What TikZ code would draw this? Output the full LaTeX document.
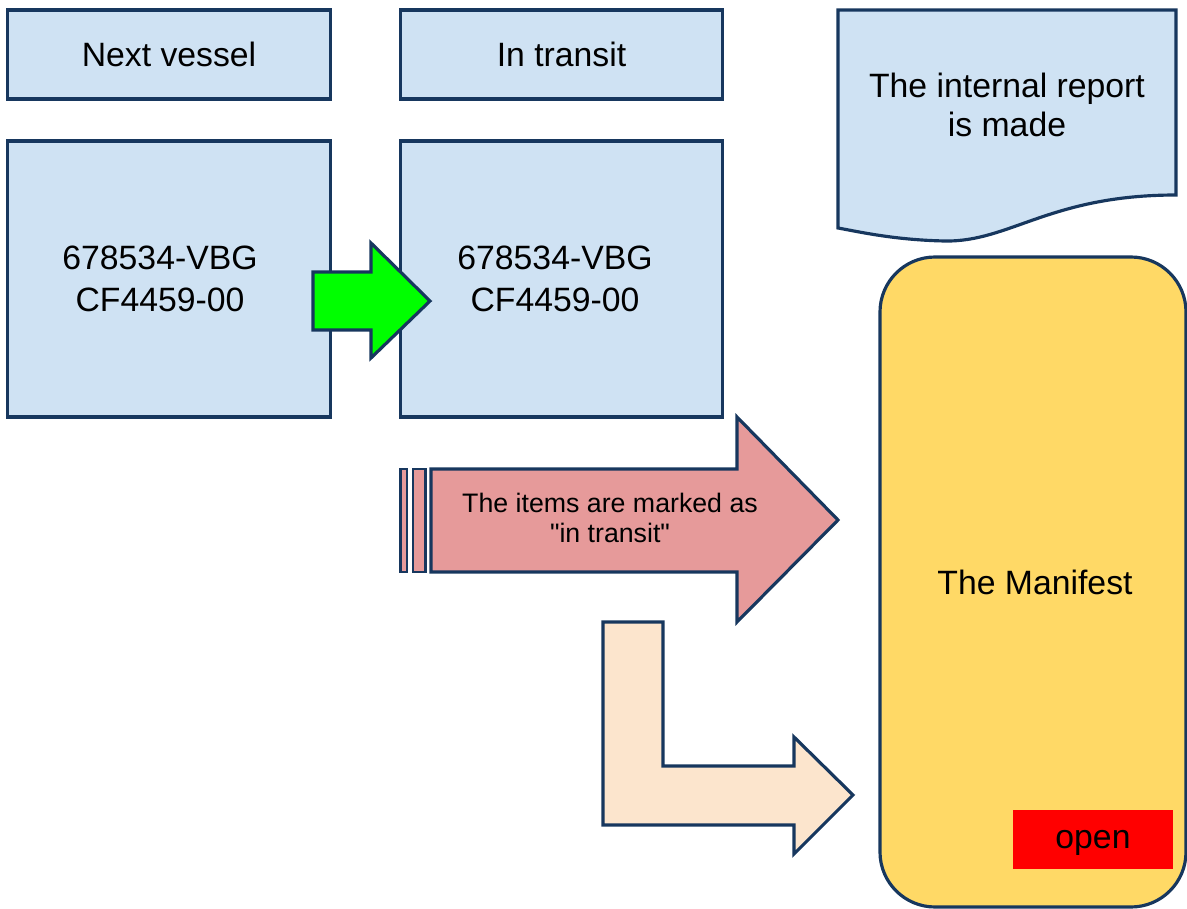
\documentclass[tikz,border=0pt]{standalone}
\usepackage{fontspec}
\setmainfont{Liberation Sans}
% straight double quote, set as a glyph so the TeX ligature mapping leaves it alone
\newcommand\straightquote{\XeTeXglyph\XeTeXcharglyph"22\relax}
\begin{document}
\definecolor{boxblue}{HTML}{CFE2F3}
\definecolor{edgenavy}{HTML}{17375E}
\definecolor{arrowgreen}{HTML}{00FF00}
\definecolor{arrowpink}{HTML}{E69A9A}
\definecolor{arrowpeach}{HTML}{FCE5CD}
\definecolor{manifestyellow}{HTML}{FFD966}
\definecolor{openred}{HTML}{FF0000}
\begin{tikzpicture}[x=0.01cm,y=-0.01cm,
  outline/.style={draw=edgenavy,line width=0.9pt,line join=miter},
  bluebox/.style={outline,fill=boxblue,rectangle,inner sep=0pt,font=\fontsize{9.6pt}{12pt}\selectfont,align=center},
  arrowshape/.style={outline},
  labeltext/.style={font=\fontsize{9.6pt}{11pt}\selectfont,align=center,inner sep=0pt}]
\useasboundingbox (0,0) rectangle (1187,909);

% header boxes
\node[bluebox,minimum width=3.22cm,minimum height=0.89cm] (nv) at (169,54.5) {Next vessel};
\node[bluebox,minimum width=3.21cm,minimum height=0.89cm] (it) at (561.5,54.5) {In transit};

% container boxes
\node[bluebox,minimum width=3.22cm,minimum height=2.76cm] (left) at (169,279) {};
\node[labeltext,font=\fontsize{9.6pt}{12pt}\selectfont] (lefttext) at (160,279) {678534-VBG\\CF4459-00};
\node[bluebox,minimum width=3.21cm,minimum height=2.76cm] (right) at (561.5,279) {};
\node[labeltext,font=\fontsize{9.6pt}{12pt}\selectfont] (righttext) at (555,279) {678534-VBG\\CF4459-00};

% green block arrow between the two containers
\draw[arrowshape,fill=arrowgreen] (313,272) -- (371,272) -- (371,243) -- (430,301)
  -- (371,358) -- (371,330) -- (313,330) -- cycle;

% document shape: the internal report
\draw[outline,fill=boxblue] (838,10) -- (1176,10) -- (1176,195)
  .. controls (1050,195) and (1010,242) .. (945,241)
  .. controls (895,240) and (860,232) .. (838,228) -- cycle;
\node[labeltext] (report) at (1007,105) {The internal report\\is made};

% the manifest
\draw[outline,fill=manifestyellow,rounded corners=0.55cm] (880,257) rectangle (1186,907);
\node[labeltext] (manifest) at (1035,582) {The Manifest};
\node[fill=openred,minimum width=1.6cm,minimum height=0.58cm,inner sep=0pt] (open) at (1093,839.5) {};
\node[labeltext] (opentext) at (1093,843) {open};

% striped pink block arrow
\draw[outline,line width=0.75pt,fill=arrowpink] (400.6,469) rectangle (407,572);
\draw[outline,line width=0.75pt,fill=arrowpink] (413,469) rectangle (425.4,572);
\draw[arrowshape,fill=arrowpink] (431,469) -- (737,469) -- (737,417) -- (838,520)
  -- (737,622) -- (737,572) -- (431,572) -- cycle;
\node[labeltext,font=\fontsize{7.6pt}{8.6pt}\selectfont] (marked) at (610,518)
  {The items are marked as\\\straightquote in transit\straightquote};

% bent peach arrow
\draw[arrowshape,fill=arrowpeach] (603,622) -- (663,622) -- (663,766) -- (794,766)
  -- (794,737) -- (853,795) -- (794,854) -- (794,825) -- (603,825) -- cycle;
\end{tikzpicture}
\end{document}
